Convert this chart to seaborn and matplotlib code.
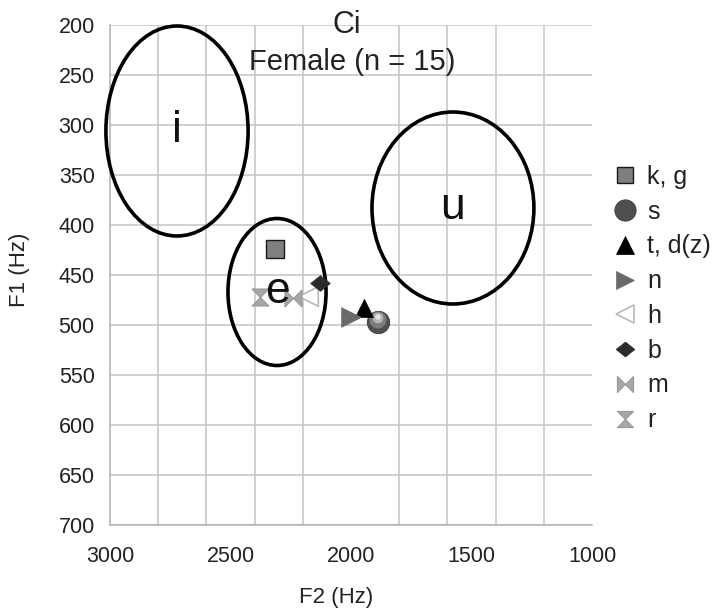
import matplotlib
matplotlib.use("Agg")
import matplotlib.pyplot as plt
import matplotlib.transforms as mtransforms
import seaborn as sns
from matplotlib.patches import Ellipse
from matplotlib.lines import Line2D
from matplotlib.ticker import MultipleLocator

# ---- data ----
consonants = ["k, g", "s", "t, d(z)", "n", "h", "b", "m", "r"]
f2_values = [2315, 1888, 1946, 2000, 2178, 2129, 2241, 2378]
f1_values = [424, 497, 483, 492, 471, 458, 473, 472]

vowels = ["i", "e", "u"]
vowel_f2 = [2722, 2307, 1577]
vowel_f1 = [306, 467, 383]
vowel_f2_width = [590, 407, 672]
vowel_f1_height = [210, 147, 192]

title_main = "Ci"
title_sub = "Female (n = 15)"
x_label = "F2 (Hz)"
y_label = "F1 (Hz)"

# ---- styling ----
sns.set_style("white")
plt.rcParams["font.family"] = ["Liberation Sans", "DejaVu Sans"]

bowtie = [(-1, -1), (-1, 1), (1, -1), (1, 1), (-1, -1)]
hourglass = [(-1, 1), (1, 1), (-1, -1), (1, -1), (-1, 1)]
diamond = [(0, 0.8), (1, 0), (0, -0.8), (-1, 0), (0, 0.8)]

styles = {
    "k, g": dict(marker="s", color="#7f7f7f", edgecolor="#1a1a1a", s=150, lw=1.0),
    "s": dict(marker="o", color="#4f4f4f", edgecolor="#3a3a3a", s=260, lw=0.6),
    "t, d(z)": dict(marker="^", color="#000000", edgecolor="#000000", s=170, lw=0.5),
    "n": dict(marker=">", color="#6a6a6a", edgecolor="#6a6a6a", s=200, lw=0.5),
    "h": dict(marker="<", color="#ffffff", edgecolor="#b8b8b8", s=200, lw=1.2),
    "b": dict(marker=diamond, color="#2b2b2b", edgecolor="#2b2b2b", s=200, lw=0.5),
    "m": dict(marker=bowtie, color="#a6a6a6", edgecolor="#9a9a9a", s=150, lw=0.8),
    "r": dict(marker=hourglass, color="#a6a6a6", edgecolor="#9a9a9a", s=150, lw=0.8),
}

W, H = 721, 610
fig = plt.figure(figsize=(W / 100, H / 100), dpi=100)
ax = fig.add_axes([110 / W, 1 - 525 / H, (592 - 110) / W, 500 / H])

ax.set_xlim(3000, 1000)
ax.set_ylim(700, 200)

# grid
ax.xaxis.set_major_locator(MultipleLocator(500))
ax.xaxis.set_minor_locator(MultipleLocator(200))
ax.yaxis.set_major_locator(MultipleLocator(50))
ax.grid(True, which="minor", axis="x", color="#c4c4c4", lw=1.1)
ax.grid(True, which="major", axis="y", color="#c4c4c4", lw=1.1)
ax.grid(False, which="major", axis="x")
ax.set_axisbelow(True)

for side in ["top", "right"]:
    ax.spines[side].set_visible(False)
for side in ["left", "bottom"]:
    ax.spines[side].set_color("#b0b0b0")
    ax.spines[side].set_linewidth(1.1)

ax.tick_params(axis="x", which="major", direction="out", length=7, width=1.1,
               color="#b0b0b0", labelsize=15.5, pad=8, labelcolor="#222222")
ax.tick_params(axis="x", which="minor", length=0)
ax.tick_params(axis="y", which="major", direction="out", length=6, width=1.1,
               color="#b0b0b0", labelsize=15.5, pad=5, labelcolor="#222222")

# vowel ellipses
for v, cx, cy, w, h in zip(vowels, vowel_f2, vowel_f1, vowel_f2_width, vowel_f1_height):
    ax.add_patch(Ellipse((cx, cy), w, h, fill=False, edgecolor="black", lw=2.6,
                         zorder=3, clip_on=False))

# consonant points
for name, fx, fy in zip(consonants, f2_values, f1_values):
    st = styles[name]
    sns.scatterplot(x=[fx], y=[fy], marker=st["marker"], s=st["s"], color=st["color"],
                    edgecolor=st["edgecolor"], linewidth=st["lw"], ax=ax, zorder=4,
                    legend=False)
    if name == "s":
        # lighter highlight layers to mimic the shaded sphere
        for size, col, dy in [(150, "#7c7c7c", 2), (60, "#b4b4b4", 4), (15, "#e6e6e6", 5)]:
            sns.scatterplot(x=[fx], y=[fy], marker="o", s=size, color=col,
                            edgecolor="none", linewidth=0, ax=ax, zorder=4, legend=False,
                            transform=mtransforms.offset_copy(ax.transData, fig=fig,
                                                              x=0, y=dy, units="dots"))

# vowel labels
for v, cx, cy in zip(vowels, vowel_f2, vowel_f1):
    ax.text(cx, cy, v, fontsize=32, ha="center", va="center", color="#111111", zorder=5)

ax.set_xlabel("")
ax.set_ylabel("")

# titles and axis labels
fig.text(347 / W, 1 - 25 / H, title_main, fontsize=22, ha="center", va="center", color="#222222")
fig.text(352 / W, 1 - 62 / H, title_sub, fontsize=21, ha="center", va="center", color="#222222")
fig.text(336 / W, 1 - 597 / H, x_label, fontsize=16, ha="center", va="center", color="#222222")
fig.text(20 / W, 1 - 270 / H, y_label, fontsize=16, ha="center", va="center",
         rotation=90, color="#222222")

# legend
handles = []
for name in consonants:
    st = styles[name]
    handles.append(Line2D([], [], linestyle="none", marker=st["marker"],
                          markersize=st["s"] ** 0.5 * 0.95, markerfacecolor=st["color"],
                          markeredgecolor=st["edgecolor"], markeredgewidth=st["lw"]))
leg = fig.legend(handles, consonants, loc="upper left",
                 bbox_to_anchor=(612 / W, 1 - 165 / H), frameon=False, fontsize=18,
                 labelspacing=0.43, handletextpad=0.4, handlelength=1.0,
                 borderaxespad=0, borderpad=0)
for t in leg.get_texts():
    t.set_color("#222222")

fig.savefig("out.png", dpi=100)
